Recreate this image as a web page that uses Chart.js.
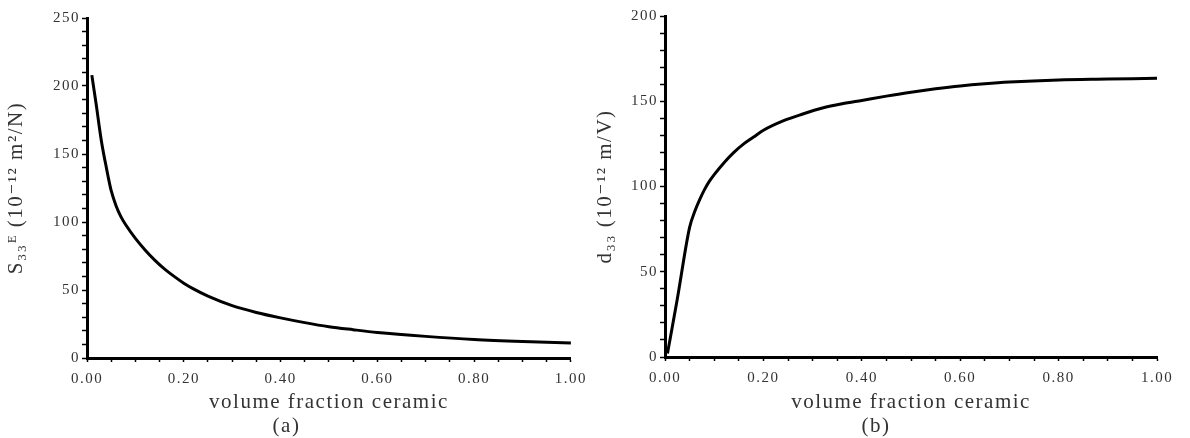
<!DOCTYPE html>
<html>
<head>
<meta charset="utf-8">
<script src="https://cdn.jsdelivr.net/npm/chart.js@4/dist/chart.umd.min.js"></script>
<style>
  body { margin: 0; background: #fff; }
  #wrap { width: 1190px; height: 438px; display: flex; }
  canvas { display: block; }
</style>
</head>
<body>
<div id="wrap">
  <canvas id="chartA" width="595" height="438"></canvas>
  <canvas id="chartB" width="595" height="438"></canvas>
</div>
<script>
// (a) compliance vs volume fraction
const fracA = [0.01, 0.015, 0.02, 0.025, 0.03, 0.035, 0.04, 0.045, 0.05, 0.06, 0.07, 0.08, 0.10, 0.12,
  0.14, 0.16, 0.18, 0.20, 0.22, 0.25, 0.30, 0.35, 0.40, 0.45, 0.50, 0.55, 0.60, 0.70, 0.80, 0.90, 1.00];
const s33 = [208, 196, 184, 171, 159, 149, 140, 131, 123, 112, 104, 98, 88, 79.5,
  72, 65.5, 60, 55, 50.8, 45.5, 38.5, 33.5, 29.5, 26, 23, 20.8, 18.8, 15.9, 13.6, 12.1, 11];

// (b) d33 vs volume fraction
const fracB = [0.005, 0.025, 0.05, 0.06, 0.07, 0.08, 0.09, 0.10, 0.12, 0.14, 0.16, 0.18, 0.20,
  0.24, 0.28, 0.32, 0.36, 0.40, 0.45, 0.50, 0.55, 0.60, 0.65, 0.70, 0.80, 0.90, 1.00];
const d33 = [2, 34, 76, 85, 92, 98, 103, 107, 114, 120, 125, 129, 133,
  138.5, 142.5, 146, 148.5, 150.5, 153, 155.3, 157.3, 159, 160.3, 161.3, 162.5, 163, 163.5];

const xLabels = ["0.00", "0.20", "0.40", "0.60", "0.80", "1.00"];

const serif = "'Liberation Serif', 'DejaVu Serif', serif";
const textColor = "#333";

// the scanned figure has wide, stretched lettering
const spacing = {
  id: "spacing",
  beforeLayout(chart) { chart.ctx.letterSpacing = "1.5px"; },
  beforeDraw(chart) { chart.ctx.letterSpacing = "1.5px"; }
};

function makeChart(id, xs, ys, opts) {
  const ctx = document.getElementById(id);
  return new Chart(ctx, {
    type: "line",
    data: {
      datasets: [{
        data: xs.map((x, i) => ({ x: x, y: ys[i] })),
        borderColor: "#000",
        borderWidth: 3,
        pointRadius: 0,
        cubicInterpolationMode: "monotone",
        fill: false
      }]
    },
    plugins: [spacing],
    options: {
      responsive: false,
      animation: false,
      layout: { padding: { top: opts.top, right: opts.right, left: 0, bottom: 0 } },
      plugins: {
        legend: { display: false },
        tooltip: { enabled: false },
        title: {
          display: true,
          position: "bottom",
          text: opts.caption,
          color: textColor,
          font: { family: serif, size: 21, weight: "normal", lineHeight: 1 },
          padding: { top: 0, bottom: 1 }
        }
      },
      scales: {
        x: {
          type: "linear",
          min: 0,
          max: 1,
          afterFit: s => { s.height = opts.xHeight; },
          border: { color: "#000", width: 3 },
          grid: { drawOnChartArea: false, drawTicks: true, tickLength: 4, tickColor: "#000", tickWidth: 1.5 },
          ticks: {
            stepSize: 0.05,
            padding: 8,
            autoSkip: false,
            maxRotation: 0,
            color: textColor,
            font: { family: serif, size: 15 },
            callback: v => {
              const k = Math.round(v * 5);
              return Math.abs(v * 5 - k) < 1e-6 ? xLabels[k] : "";
            }
          },
          title: {
            display: true,
            text: "volume fraction ceramic",
            color: textColor,
            font: { family: serif, size: 21, lineHeight: 1 },
            padding: { top: 0, bottom: 3 }
          }
        },
        y: {
          min: 0,
          max: opts.yMax,
          afterFit: s => { s.width = opts.yWidth; },
          border: { color: "#000", width: 3 },
          grid: { drawOnChartArea: false, drawTicks: true, tickLength: 5, tickColor: "#000", tickWidth: 1.5 },
          ticks: {
            stepSize: 10,
            padding: 2,
            autoSkip: false,
            color: textColor,
            font: { family: serif, size: 15 },
            callback: v => (v % 50 === 0 ? v : "")
          },
          title: {
            display: true,
            text: opts.yTitle,
            color: textColor,
            font: { family: serif, size: 21, lineHeight: 1 },
            padding: { top: opts.yTitlePad, bottom: 0 }
          }
        }
      }
    }
  });
}

window.addEventListener("DOMContentLoaded", function() {
  makeChart("chartA", fracA, s33, {
    top: 18, right: 22, xHeight: 58, yWidth: 87, yMax: 250, yTitlePad: 6,
    yTitle: "S\u2083\u2083\u1D31 (10\u207B\u00B9\u00B2 m\u00B2/N)", caption: "(a)"
  });
  makeChart("chartB", fracB, d33, {
    top: 16, right: 33, xHeight: 59, yWidth: 70, yMax: 200, yTitlePad: 0,
    yTitle: "d\u2083\u2083 (10\u207B\u00B9\u00B2 m/V)", caption: "(b)"
  });
});
</script>
</body>
</html>
